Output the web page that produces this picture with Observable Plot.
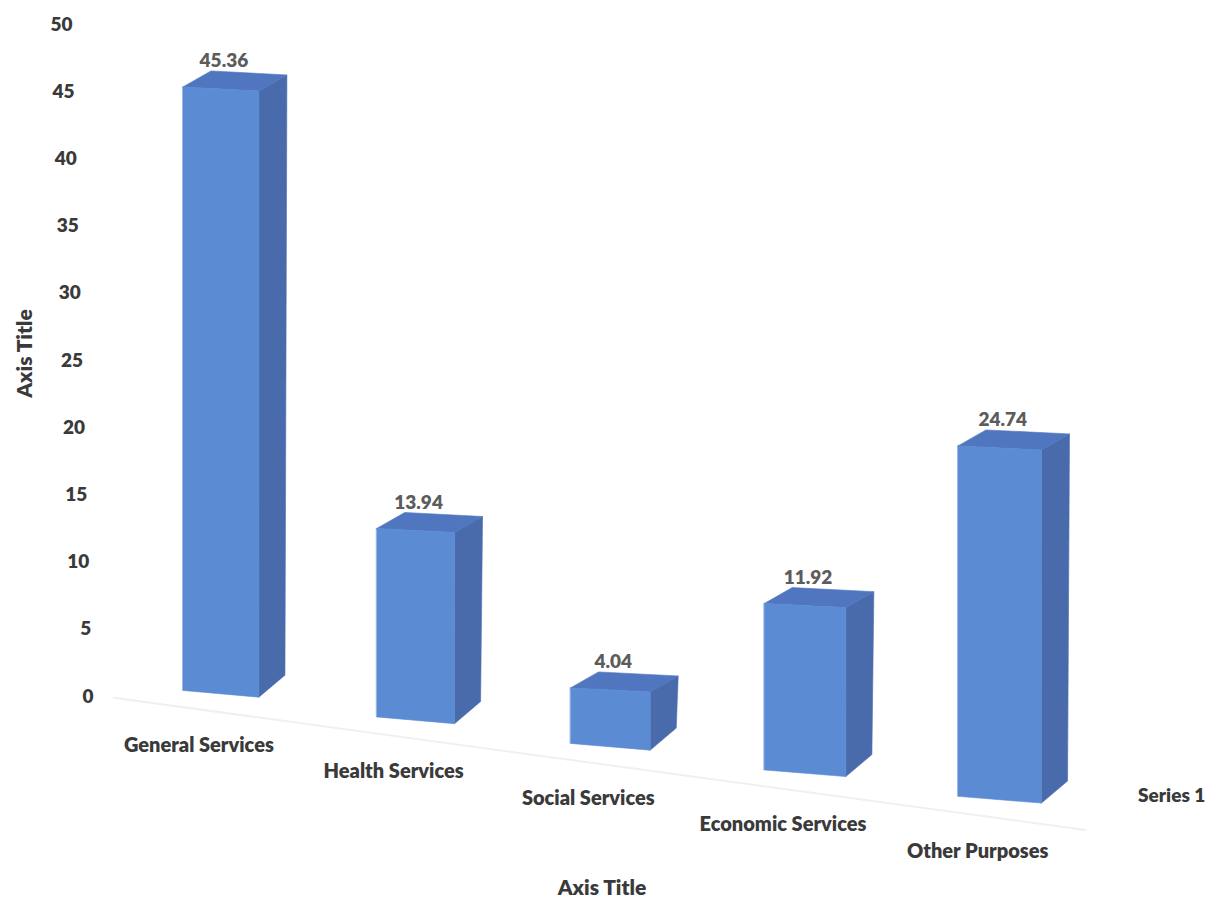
<!DOCTYPE html>
<html>
<head>
<meta charset="utf-8">
<script src="https://cdn.jsdelivr.net/npm/d3@7"></script>
<script src="https://cdn.jsdelivr.net/npm/@observablehq/plot@0.6"></script>
<style>
  body { margin: 0; background: #ffffff; }
  #chart svg { display: block; }
</style>
</head>
<body>
<div id="chart"></div>
<script>
// ---- data ----
const categories = ["General Services", "Health Services", "Social Services", "Economic Services", "Other Purposes"];
const values = [45.36, 13.94, 4.04, 11.92, 24.74];
const yTicks = [0, 5, 10, 15, 20, 25, 30, 35, 40, 45, 50];
const seriesLabel = "Series 1";
const xAxisTitle = "Axis Title";
const yAxisTitle = "Axis Title";

// ---- layout of the 3D projection (in scale units) ----
const W = 1211, H = 900;
const base0 = 0.45, drop = 1.97, persp0 = 0.99, persp = 0.016, halfW = 0.195;
const topSkew = 0.3, botSkew = 0.5;
const dTop = [0.144, 1.19], dBot = [0.134, 1.64];
const baseAt = (x) => base0 - drop * x;

const rows = categories.map((c, i) => {
  const k = persp0 + persp * i;
  const b = baseAt(i);
  const t = b + values[i] * k;
  const hw = halfW * (1 + 0.025 * i);
  return { i, c, v: values[i], b, t, xl: i - hw, xr: i + hw };
});

const frontFaces = [], topFaces = [], sideFaces = [];
for (const r of rows) {
  const TL = [r.xl, r.t], TR = [r.xr, r.t - topSkew], BR = [r.xr, r.b - botSkew], BL = [r.xl, r.b];
  const add = (arr, p) => arr.push({ id: r.i, x: p[0], y: p[1] });
  [TL, TR, BR, BL].forEach(p => add(frontFaces, p));
  [TL, [TL[0] + dTop[0], TL[1] + dTop[1]], [TR[0] + dTop[0], TR[1] + dTop[1]], TR].forEach(p => add(topFaces, p));
  [TR, [TR[0] + dTop[0], TR[1] + dTop[1]], [BR[0] + dBot[0], BR[1] + dBot[1]], BR].forEach(p => add(sideFaces, p));
}

const n = categories.length;
const floorX = [-0.55, n - 1 + 0.44];
const floorLine = floorX.map(x => ({ x, y: baseAt(x) - 1.63 }));

// y axis labels drift right in the perspective view
const tickX = (v) => ((93 - 0.42 * v) - 220.4) / 194.7;

const colFront = "#5a8bd3", colTop = "#4f76bf", colSide = "#496bab";
const textDark = "#3a3a3a";

const chart = Plot.plot({
  width: W,
  height: H,
  margin: 0,
  x: { domain: [(0 - 220.4) / 194.7, (W - 220.4) / 194.7], axis: null },
  y: { domain: [(696 - H) / 13.44, 696 / 13.44], axis: null },
  style: { fontFamily: "Lato, 'Open Sans', sans-serif", background: "#ffffff", overflow: "visible" },
  marks: [
    Plot.line(floorLine, { x: "x", y: "y", stroke: "#f0f0f0", strokeWidth: 2 }),
    Plot.line(sideFaces, { x: "x", y: "y", z: "id", fill: colSide, stroke: colSide, strokeWidth: 0.6, curve: "linear-closed" }),
    Plot.line(topFaces, { x: "x", y: "y", z: "id", fill: colTop, stroke: colTop, strokeWidth: 0.6, curve: "linear-closed" }),
    Plot.line(frontFaces, { x: "x", y: "y", z: "id", fill: colFront, stroke: colFront, strokeWidth: 0.6, curve: "linear-closed" }),
    // value labels
    Plot.text(rows, { x: "i", y: "t", text: d => d.v.toFixed(2), dx: 3, dy: -26, fill: "#5c5c5c", fontSize: 19, fontWeight: 800 }),
    // category labels
    Plot.text(rows, { x: "i", y: "b", text: "c", dx: -22, dy: 55, fill: textDark, fontSize: 20, fontWeight: 800 }),
    // y tick labels
    Plot.text(yTicks, { x: v => tickX(v), y: v => v, text: v => String(v), textAnchor: "end", fill: textDark, fontSize: 19, fontWeight: 800 }),
    // series (depth) label
    Plot.text([seriesLabel], { x: () => n - 1, y: () => baseAt(n - 1), text: d => d, dx: 172, fill: textDark, fontSize: 19, fontWeight: 800 }),
    // axis titles
    Plot.text([xAxisTitle], { frameAnchor: "bottom", textAnchor: "middle", text: d => d, dx: -4, dy: -6, fill: textDark, fontSize: 21, fontWeight: 800 }),
    Plot.text([yAxisTitle], { frameAnchor: "left", textAnchor: "middle", text: d => d, rotate: -90, dx: 25, dy: -97, fill: textDark, fontSize: 21, fontWeight: 800 })
  ]
});
document.getElementById("chart").appendChild(chart);
</script>
</body>
</html>
